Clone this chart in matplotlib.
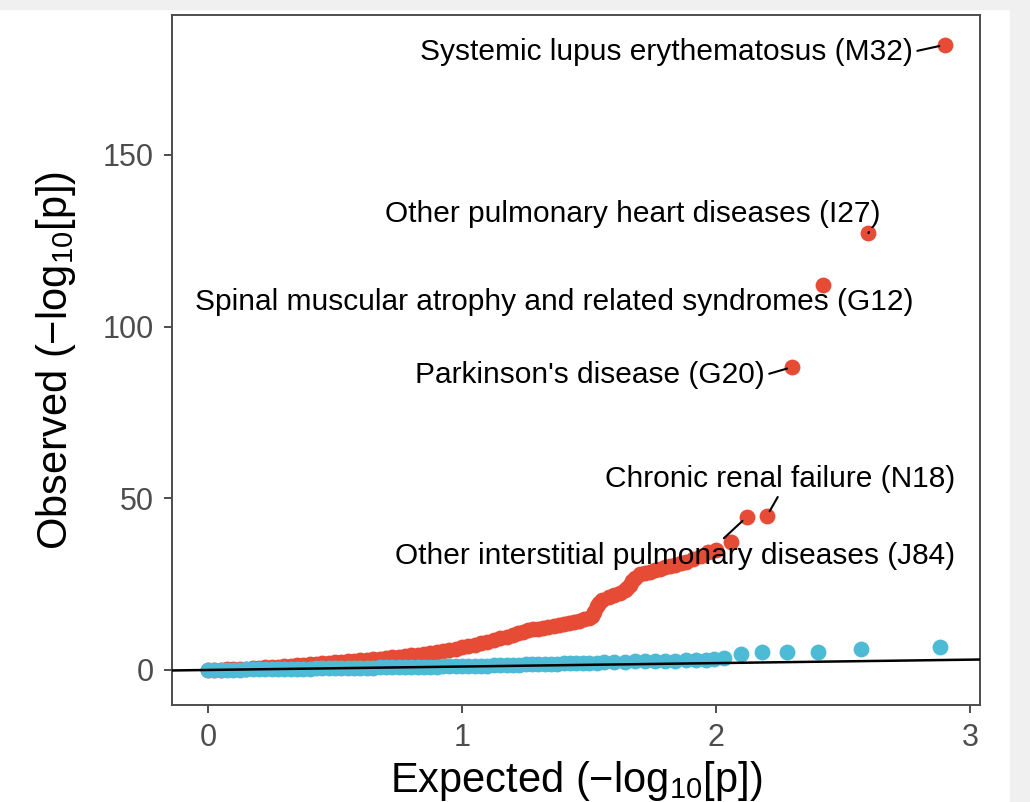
import matplotlib
matplotlib.use("Agg")
import matplotlib.pyplot as plt
from matplotlib.patches import Rectangle

plt.rcParams["font.family"] = ["Liberation Sans", "DejaVu Sans"]
plt.rcParams["mathtext.default"] = "regular"

# red group: expected vs observed -log10(p)
red_exp = [0.000, 0.025, 0.050, 0.075, 0.100, 0.125, 0.150, 0.175, 0.200, 0.225,
           0.250, 0.275, 0.300, 0.325, 0.350, 0.375, 0.400, 0.425, 0.450, 0.475,
           0.500, 0.525, 0.550, 0.575, 0.600, 0.625, 0.650, 0.675, 0.700, 0.725,
           0.750, 0.775, 0.800, 0.825, 0.850, 0.875, 0.900, 0.925, 0.950, 0.975,
           1.000, 1.025, 1.050, 1.075, 1.100, 1.125, 1.150, 1.175, 1.200, 1.220,
           1.240, 1.260, 1.280, 1.300, 1.320, 1.340, 1.360, 1.380, 1.400, 1.420,
           1.440, 1.460, 1.480, 1.500, 1.510, 1.520, 1.530, 1.540, 1.550, 1.580,
           1.600, 1.620, 1.640, 1.650, 1.660, 1.670, 1.680, 1.700, 1.720, 1.740,
           1.760, 1.780, 1.800, 1.820, 1.840, 1.860, 1.880, 1.910, 1.940, 1.970,
           2.000, 2.060, 2.120, 2.200, 2.300, 2.420, 2.600, 2.900]
red_obs = [0.0, 0.05, 0.1, 0.15, 0.2, 0.3, 0.4, 0.5, 0.6, 0.75,
           0.9, 1.0, 1.1, 1.25, 1.4, 1.5, 1.6, 1.75, 1.9, 2.05,
           2.2, 2.35, 2.5, 2.65, 2.8, 2.95, 3.1, 3.3, 3.5, 3.7,
           3.9, 4.1, 4.3, 4.5, 4.7, 4.9, 5.1, 5.4, 5.8, 6.2,
           6.7, 7.0, 7.4, 7.8, 8.2, 8.7, 9.2, 9.7, 10.3, 10.7,
           11.1, 11.5, 11.8, 12.0, 12.3, 12.5, 12.8, 13.0, 13.3, 13.6,
           14.0, 14.4, 14.8, 15.2, 15.6, 17.0, 18.5, 19.5, 20.5, 21.3,
           21.9, 22.5, 23.2, 24.0, 24.8, 25.8, 26.8, 27.8, 28.2, 28.6,
           29.0, 29.5, 30.0, 30.3, 30.6, 31.0, 31.5, 32.3, 33.3, 34.3,
           35.0, 37.3, 44.5, 44.8, 88.2, 112.0, 127.2, 182.0]

# blue group
blue_exp = [0.000, 0.025, 0.050, 0.075, 0.100, 0.125, 0.150, 0.175, 0.200, 0.225,
            0.250, 0.275, 0.300, 0.325, 0.350, 0.375, 0.400, 0.425, 0.450, 0.475,
            0.500, 0.525, 0.550, 0.575, 0.600, 0.625, 0.650, 0.675, 0.700, 0.725,
            0.750, 0.775, 0.800, 0.825, 0.850, 0.875, 0.900, 0.925, 0.950, 0.975,
            1.000, 1.025, 1.050, 1.075, 1.100, 1.125, 1.150, 1.175, 1.200, 1.225,
            1.250, 1.275, 1.300, 1.325, 1.350, 1.375, 1.400, 1.425, 1.450, 1.475,
            1.500, 1.530, 1.560, 1.600, 1.640, 1.680, 1.720, 1.760, 1.800, 1.840,
            1.880, 1.920, 1.960, 1.990, 2.030, 2.100, 2.180, 2.280, 2.400, 2.570,
            2.880]
blue_obs = [0.00, 0.03, 0.05, 0.08, 0.10, 0.13, 0.15, 0.18, 0.20, 0.23,
            0.25, 0.28, 0.30, 0.33, 0.35, 0.38, 0.40, 0.43, 0.45, 0.48,
            0.50, 0.55, 0.60, 0.62, 0.65, 0.68, 0.70, 0.73, 0.75, 0.78,
            0.80, 0.83, 0.85, 0.88, 0.90, 0.95, 1.00, 1.02, 1.05, 1.08,
            1.10, 1.15, 1.20, 1.25, 1.30, 1.35, 1.40, 1.45, 1.50, 1.55,
            1.60, 1.65, 1.70, 1.75, 1.80, 1.85, 1.90, 1.95, 2.00, 2.05,
            2.10, 2.15, 2.20, 2.30, 2.40, 2.50, 2.55, 2.60, 2.70, 2.75,
            2.80, 2.90, 3.00, 3.10, 3.50, 4.70, 5.20, 5.20, 5.30, 6.10,
            6.80]

# labelled red points (counted from the end of the red series)
labels = ["Systemic lupus erythematosus (M32)",
          "Other pulmonary heart diseases (I27)",
          "Spinal muscular atrophy and related syndromes (G12)",
          "Parkinson's disease (G20)",
          "Chronic renal failure (N18)",
          "Other interstitial pulmonary diseases (J84)"]
label_idx = [-1, -2, -3, -4, -5, -6]
# label anchor = right edge of text
label_x = [2.776, 2.646, 2.776, 2.193, 2.941, 2.941]
label_y = [180.0, 132.8, 107.2, 85.9, 55.6, 33.2]
# where the leader leaves the text box (None = no leader)
label_rel = [(1.0, 0.5), (0.98, 0.0), None, (1.0, 0.5), (0.5, 0.0), (0.58, 1.0)]

RED = "#E64B35"
BLUE = "#4DBBD5"

fig = plt.figure(figsize=(10.30, 8.02), dpi=100)
fig.patches.append(Rectangle((0, 1 - 9 / 802), 1, 9 / 802, transform=fig.transFigure,
                             color="#f0f0f0", zorder=0))
fig.patches.append(Rectangle((1010 / 1030, 0), 20 / 1030, 1, transform=fig.transFigure,
                             color="#f0f0f0", zorder=0))
ax = fig.add_axes([172 / 1030, 97 / 802, 808 / 1030, 690 / 802])

ax.scatter(red_exp, red_obs, s=130, color=RED, linewidths=0, zorder=2)
ax.scatter(blue_exp, blue_obs, s=130, color=BLUE, linewidths=0, zorder=3)
ax.axline((0, 0), slope=1, color="black", lw=1.8, zorder=4)

for lab, i, tx, ty, rel in zip(labels, label_idx, label_x, label_y, label_rel):
    props = None
    if rel is not None:
        props = dict(arrowstyle="-", color="black", lw=1.5, shrinkA=1, shrinkB=4,
                     relpos=rel)
    ax.annotate(lab, xy=(red_exp[i], red_obs[i]), xytext=(tx, ty),
                ha="right", va="center", fontsize=21.5, color="black",
                arrowprops=props, zorder=5)

ax.set_xlim(-0.142, 3.039)
ax.set_ylim(-10.2, 190.7)
ax.set_xticks([0, 1, 2, 3])
ax.set_yticks([0, 50, 100, 150])
ax.tick_params(axis="both", length=6, width=1.4, color="#4d4d4d", pad=7,
               labelsize=22, labelcolor="#4d4d4d")
for sp in ax.spines.values():
    sp.set_color("#4d4d4d")
    sp.set_linewidth(1.4)

ax.set_xlabel("Expected (−log$_{10}$[p])", fontsize=30, labelpad=4)
ax.set_ylabel("Observed (−log$_{10}$[p])", fontsize=30, labelpad=18)

fig.savefig("out.png", dpi=100)
